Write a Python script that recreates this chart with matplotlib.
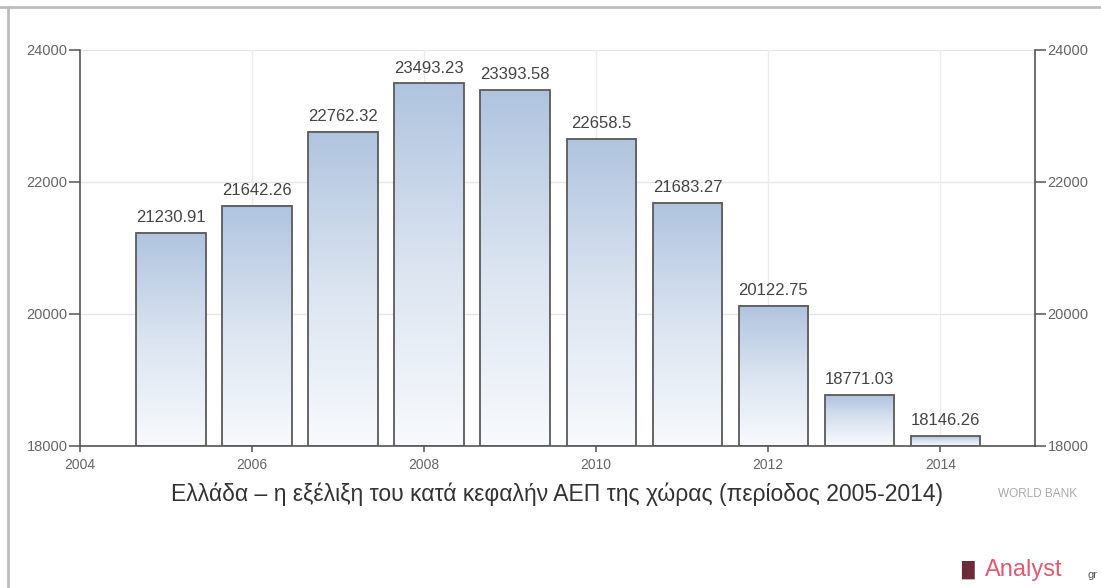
import numpy as np
import matplotlib
matplotlib.use("Agg")
import matplotlib.pyplot as plt
from matplotlib.colors import LinearSegmentedColormap
from matplotlib.lines import Line2D

# GDP per capita, Greece
years = [2005, 2006, 2007, 2008, 2009, 2010, 2011, 2012, 2013, 2014]
gdp_per_capita = [21230.91, 21642.26, 22762.32, 23493.23, 23393.58,
                  22658.5, 21683.27, 20122.75, 18771.03, 18146.26]
value_labels = ["21230.91", "21642.26", "22762.32", "23493.23", "23393.58",
                "22658.5", "21683.27", "20122.75", "18771.03", "18146.26"]
y_ticks = [18000, 20000, 22000, 24000]
x_ticks = [2004, 2006, 2008, 2010, 2012, 2014]

title = "Ελλάδα – η εξέλιξη του κατά κεφαλήν ΑΕΠ της χώρας (περίοδος 2005-2014)"

plt.rcParams["font.family"] = ["Liberation Sans", "DejaVu Sans"]

fig = plt.figure(figsize=(11.01, 5.88), dpi=100)
fig.patch.set_facecolor("white")
ax = fig.add_axes([0.0727, 0.2415, 0.8673, 0.6735])

ymin, ymax = 18000, 24000
xmin, xmax = 2004.0, 2015.1
bar_w = 0.81
offset = 0.06

grad_cmap = LinearSegmentedColormap.from_list(
    "bar", ["#f8fafd", "#dbe4f0", "#b0c4df"])
grad = np.linspace(0, 1, 256).reshape(-1, 1)

# horizontal and vertical grid
for yv in y_ticks[1:]:
    ax.axhline(yv, color="#e6e6e6", lw=1.0, zorder=0)
for xv in x_ticks[1:]:
    ax.axvline(xv, color="#ececec", lw=1.0, zorder=0)

for yr, val, lab in zip(years, gdp_per_capita, value_labels):
    cx = yr + offset
    x0, x1 = cx - bar_w / 2, cx + bar_w / 2
    ax.imshow(grad, extent=[x0, x1, ymin, val], origin="lower",
              cmap=grad_cmap, aspect="auto", zorder=2, interpolation="bilinear")
    ax.bar(cx, val - ymin, bottom=ymin, width=bar_w, facecolor="none",
           edgecolor="#5a5a5a", linewidth=1.3, zorder=3)
    ax.text(cx, val + 120, lab, ha="center", va="bottom", fontsize=12,
            color="#444444", zorder=4)

ax.set_xlim(xmin, xmax)
ax.set_ylim(ymin, ymax)
ax.set_xticks(x_ticks)
ax.set_xticklabels([str(x) for x in x_ticks])
ax.set_yticks(y_ticks)
ax.set_yticklabels([str(y) for y in y_ticks])

ax.spines["top"].set_visible(False)
for s in ["left", "right", "bottom"]:
    ax.spines[s].set_color("#555555")
    ax.spines[s].set_linewidth(1.2)

ax.tick_params(axis="both", labelsize=10.5, colors="#555555",
               labelcolor="#666666", length=8, width=1.1)
ax.tick_params(axis="x", labelsize=10, length=4, pad=5)
ax.tick_params(axis="y", left=True, right=True, labelleft=True,
               labelright=True, pad=1)

# frame lines along top and left of the figure
fig.add_artist(Line2D([0.0, 1.0], [1 - 7 / 588, 1 - 7 / 588],
                      color="#bdbdbd", lw=2.0, transform=fig.transFigure))
fig.add_artist(Line2D([8 / 1101, 8 / 1101], [0.0, 1 - 7 / 588],
                      color="#bdbdbd", lw=2.0, transform=fig.transFigure))

fig.text(557 / 1101, 1 - 494 / 588, title, ha="center", va="center",
         fontsize=16.5, color="#333333")
fig.text(1038 / 1101, 1 - 494 / 588, "WORLD BANK", ha="center",
         va="center", fontsize=8.5, color="#aaaaaa")
fig.text(982 / 1101, 1 - 570 / 588, "\u2590\u258c", ha="right", va="center",
         fontsize=13, color="#6b2c3a", family="DejaVu Sans")
fig.text(985 / 1101, 1 - 570 / 588, "Analyst", ha="left", va="center",
         fontsize=17, color="#e05a70")
fig.text(1088 / 1101, 1 - 575 / 588, "gr", ha="left", va="center",
         fontsize=8, color="#555555")

fig.savefig("out.png", dpi=100, facecolor="white")
